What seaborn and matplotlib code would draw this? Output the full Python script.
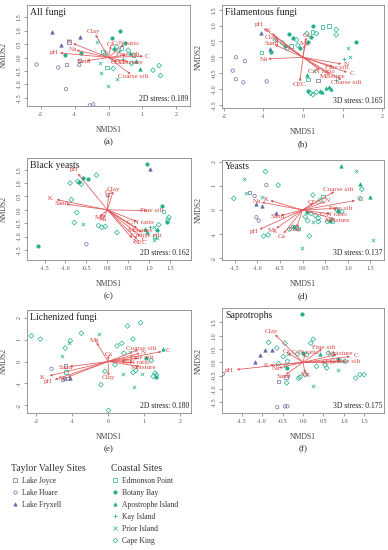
import matplotlib
matplotlib.use("Agg")
import matplotlib.pyplot as plt
from matplotlib.lines import Line2D
import pandas as pd
import seaborn as sns

# Data
# site codes: J Lake Joyce, H Lake Hoare, F Lake Fryxell,
# E Edmonson Point, B Botany Bay, A Apostrophe Island, K Kay Island, P Prior Island, C Cape King

a_x = [-1.66, -0.84, -1.40, -1.16, -2.12, -1.48, -1.24, -0.86, -0.86, -1.25, -0.55, -0.45,
       0.35, 0.09, -0.35, -0.82, -1.28, -0.24, -0.21, -0.04, 0.14, 0.26, -0.01, 0.92, 1.31, 1.49, 1.53,
       0.68, 0.24, 0.38, 0.48, 0.58, 0.63, -0.16, -0.08, 0.43, 0.73, 0.80, 0.15, 0.30]
a_y = [0.93, 0.77, 0.46, 0.57, -0.26, -0.37, -0.26, -0.10, -0.28, -1.17, -1.78, -1.74,
       0.98, 0.74, 0.56, 0.17, 0.09, -0.19, -0.57, -0.38, -0.41, -0.78, -1.06, -0.44, -0.47, -0.30, -0.67,
       -0.22, 0.40, 0.36, 0.54, 0.27, 0.15, 0.21, 0.15, -0.04, 0.09, -0.14, 0.30, 0.25]
a_site = list("FFFJHHJJHHHH") + list("BBPBBPPECPPACCCCCEBCAECKEABK")
a_vec = ["Clay", "Ca", "C/N ratio", "K", "Na", "pH", "Sand", "Fine silt", "C", "CEC", "Moisture", "Coarse silt"]
a_vx = [-0.38, 0.07, 0.45, -1.04, -0.94, -1.43, -0.65, 0.51, 1.02, 0.25, 0.58, 0.65]
a_vy = [0.85, 0.43, 0.48, 0.52, 0.27, 0.17, -0.12, 0.09, 0.05, -0.16, -0.16, -0.62]

b_x = [-1.07, -0.84, -1.47, -1.70, -1.78, -1.70, -1.51, -0.92, 0.38,
       -0.36, -0.25, -0.16, -0.52, -0.46, -0.40, -0.30, -0.13, -0.08, -1.05, -0.80, -0.70,
       0.25, 0.50, 0.66, 0.84, 0.84, 0.24, 0.34, 0.10, 0.21, 0.13, 1.34, 1.13, 1.20, 1.03, 0.84,
       0.27, 0.10, 0.13, 0.13, 0.19, 0.25, 0.34, 0.42, 0.48, 0.59, 0.66, 0.72]
b_y = [0.78, 0.25, -0.12, 0.0, -0.42, -0.69, -0.79, -0.76, -0.73,
       0.75, 0.60, 0.55, 0.45, 0.35, 0.28, 0.36, 0.38, 0.30, 0.15, 0.18, 0.55,
       0.98, 0.96, 0.99, 0.88, 0.71, 0.80, 0.75, 0.75, 0.65, 0.49, 0.49, 0.28, 0.02, -0.06, -0.71,
       -0.42, -0.55, -0.71, -1.07, -1.13, -1.18, -1.10, -1.07, -1.10, -0.97, -0.94, -1.00]
b_site = list("FFHHHHHHJ") + list("BBCCBCECBEBC") + list("BEECCECCBBBPPKK") + list("PAEBCCCAAAAA")
b_vec = ["pH", "K", "Clay", "Sand", "Na", "Ca", "Mg", "N", "Fine silt", "C", "C/N ratio", "Moisture", "Coarse silt", "CEC"]
b_vx = [-0.99, -0.78, -0.71, -0.71, -0.88, 0.08, 0.04, 0.97, 0.76, 1.11, 0.42, 0.67, 0.97, -0.08]
b_vy = [0.91, 0.75, 0.57, 0.39, -0.05, 0.62, 0.39, -0.21, -0.29, -0.47, -0.40, -0.55, -0.71, -0.76]

c_x = [1.02, 0.01, -0.50,
       0.95, -0.59, -0.26, -0.47, -0.71, -0.67, -0.62, -0.89, -0.86, -0.73, -0.79, -0.57, -0.21, -0.13,
       -0.05, 0.23, -1.66, 1.31, 1.34, 1.47, 1.45, 1.42, 1.23, 1.11, 1.18, 1.13, 1.18, 1.11, 0.95, 1.03, 0.89]
c_y = [1.53, 0.54, -1.29,
       1.73, 1.19, 1.30, 1.15, 1.06, 1.03, 0.96, 1.00, 0.38, -0.10, -0.48, -0.53, -0.59, -0.65,
       -0.63, -0.85, -1.35, 0.15, -0.06, -0.28, -0.38, -0.44, -0.56, -0.65, -0.75, -0.98, -1.06, -1.13, -0.85, -0.63, -0.73]
c_site = list("FHH") + list("BBCBCBCCCCCPCCCCBBECCBCPBEPPAKA")
c_vec = ["pH", "Ca", "Clay", "K", "Sand", "Mg", "Na", "Fine silt", "C/N ratio", "Moisture", "Coarse silt", "C", "N", "CEC"]
c_vx = [-0.70, 0.03, 0.14, -1.21, -0.97, -0.17, -0.09, 0.95, 0.71, 0.71, 0.83, 0.79, 0.59, 0.71]
c_vy = [1.35, 0.59, 0.69, 0.38, 0.21, -0.25, -0.31, -0.03, -0.44, -0.69, -0.85, -0.98, -1.06, -1.10]

d_x = [0.85, 1.18, -0.82, -1.30, -0.54, 1.27, 1.31, -1.26, -1.52, -0.90, 1.49, 1.27, 0.23, 0.45, 0.39,
       0.76, 0.79, 0.87, 0.10, 0.18, 0.28, 0.35, 0.06, 0.11, 0.23, 0.55, 0.60, 0.67, 0.35, -0.86,
       -0.76, 0.15, -0.01, 1.55, -0.29, -0.18, -0.10,
       -0.80, -1.17, -1.06, -1.02, -0.90, -0.58, -1.02, -0.97, -0.21, -0.14]
d_y = [1.82, 1.63, 1.59, 1.27, 1.03, 1.06, 0.86, 0.69, 0.48, 0.55, 0.52, 0.48, 0.62, 0.55, 0.41,
       0.0, -0.04, -0.07, -0.07, -0.14, -0.23, -0.34, -0.28, -0.44, -0.48, -0.48, -0.44, -0.48, -0.48, -1.08,
       -1.03, -1.08, -1.59, -1.24, -0.80, -0.72, -0.76,
       1.03, 0.73, 0.58, 0.25, 0.17, -0.11, -0.30, -0.44, -0.69, -0.70]
d_site = list("APCPCACPCPACCEC") + list("CBCBCCCCCPCBCCC") + list("CCPPCBE") + list("HJHFFFHHHJ")
d_vec = ["Na", "K", "Sand", "pH", "Mg", "Ca", "Clay", "Coarse silt", "CEC", "N", "C", "Fine silt", "C/N ratio", "Moisture"]
d_vx = [-0.90, -0.71, -0.49, -0.95, -0.58, -0.42, -0.13, 0.70, 0.23, 0.50, 1.16, 0.76, 0.61, 0.70]
d_vy = [0.32, 0.39, -0.23, -0.80, -0.76, -0.97, -0.72, 0.76, 0.28, 0.34, 0.39, 0.07, -0.17, -0.37]

e_x = [-2.13, -1.88, -0.74, -0.25, -1.05, -1.08, -1.19, -1.27, 0.54, 0.90, 0.25, 0.38, 0.69, 0.60,
       0.44, 1.53, 0.19, -0.09, -0.20, 0.40, 0.69, 0.77, 0.72, 0.94, 1.30, 1.34, 1.25, 1.34, 0.01,
       1.05, 1.20, -1.17,
       -1.57, -1.18, -1.25, -1.20, -1.12, -1.06]
e_y = [1.17, 1.02, 1.29, 1.26, 0.95, 0.83, 0.61, 0.23, 1.62, 1.77, 0.71, 0.83, 1.02, 0.45,
       0.38, 0.56, -0.15, -0.45, -1.06, -0.56, -0.50, -0.41, -1.17, -0.58, -0.53, -0.61, -0.68, -0.71, -2.23,
       0.15, 0.05, -0.48,
       -0.33, -0.20, -0.85, -0.80, -0.77, -0.75]
e_site = list("CCCPCPCPCCCCCPCACCCPCCPPCCCBCBCE") + list("HJHHJF")
e_vec = ["Mg", "Ca", "Clay", "Sand", "K", "pH", "Na", "Coarse silt", "N", "C", "Fine silt", "C/N ratio", "CEC", "Moisture"]
e_vx = [-0.32, 0.01, 0.01, -1.06, -1.62, -1.48, -1.11, 0.83, 0.88, 1.48, 0.83, 0.69, 0.50, 0.88]
e_vy = [0.86, 0.27, -0.65, -0.23, -0.65, -0.83, -0.71, 0.53, 0.38, 0.45, 0.15, -0.05, 0.02, -0.23]

f_x = [-0.02, -0.84, -0.44, -0.64, 0.25, 0.19, -0.14, 0.01, 0.09, -0.36, -0.48, -0.38, -0.60, -0.44,
       -0.38, -0.07, -0.11, -0.40, 0.05, 0.24, 0.42, 0.62, 0.74, 0.86, 0.54, 0.58, 0.86, 0.97, 1.03,
       1.29, 1.39, 1.49, 0.33,
       -1.96, -1.17, -1.05, -0.93, -0.77, -0.60, -0.42, -0.63, -0.44, -0.38]
f_y = [1.81, 0.75, 0.72, 0.54, 0.87, 0.72, 0.32, 0.35, 0.29, 0.32, 0.22, 0.04, -0.05, -0.15,
       -0.21, -0.55, -0.60, -0.77, -0.46, -0.87, 0.32, 0.35, 0.29, 0.12, -0.09, -0.21, -0.30, 0.04, 0.04,
       -0.59, -0.46, -0.46, -0.15,
       -0.44, 0.01, 0.29, 0.48, 0.48, -0.71, -0.55, -1.68, -1.65, -1.65]
f_site = list("BCCCCCCBCPCCCPBCCCCPACCBCCPKCCCCC") + list("HFFFFJJHHH")
f_vec = ["Clay", "Ca", "C/N ratio", "Fine silt", "Moisture", "C", "Coarse silt", "N", "pH", "K", "Na", "Sand", "Mg", "CEC"]
f_vx = [-0.68, -0.36, 0.05, 0.46, 0.82, 1.15, 0.91, 0.80, -1.62, -0.81, -0.59, -0.42, 0.05, 0.55]
f_vy = [1.04, 0.35, 0.32, 0.50, 0.29, 0.22, 0.04, 0.02, -0.27, -0.11, -0.21, -0.46, -0.40, 0.01]

titles = ["All fungi", "Filamentous fungi", "Black yeasts", "Yeasts", "Lichenized fungi", "Saprotrophs"]
stress = ["2D stress: 0.189", "3D stress: 0.165", "2D stress: 0.162", "3D stress: 0.137", "2D stress: 0.180", "3D stress: 0.175"]
letters = ["(a)", "(b)", "(c)", "(d)", "(e)", "(f)"]

tv_sites = ["Lake Joyce", "Lake Hoare", "Lake Fryxell"]
coastal_sites = ["Edmonson Point", "Botany Bay", "Apostrophe Island", "Kay Island", "Prior Island", "Cape King"]
site_codes = dict(zip(["J", "H", "F", "E", "B", "A", "K", "P", "C"], tv_sites + coastal_sites))

# Styles
purple = "#6c6ca8"
teal = "#22b08c"
red = "#e0585a"
site_style = {
    "Lake Joyce": ("s", purple, False), "Lake Hoare": ("o", purple, False), "Lake Fryxell": ("^", purple, True),
    "Edmonson Point": ("s", teal, False), "Botany Bay": ("o", teal, True), "Apostrophe Island": ("^", teal, True),
    "Kay Island": ("+", teal, True), "Prior Island": ("x", teal, True), "Cape King": ("D", teal, False),
}

panels = [
    (a_x, a_y, a_site, a_vec, a_vx, a_vy, (-2.4, 2.4), (-1.8, 1.95), [-2, -1, 0, 1, 2], [-1.5, -1, -0.5, 0, 0.5, 1, 1.5]),
    (b_x, b_y, b_site, b_vec, b_vx, b_vy, (-2.05, 2.05), (-1.6, 1.65), [-2, -1, 0, 1, 2], [-1.5, -1, -0.5, 0, 0.5, 1, 1.5]),
    (c_x, c_y, c_site, c_vec, c_vx, c_vy, (-1.92, 2.0), (-1.88, 1.94), [-1.5, -1, -0.5, 0, 0.5, 1, 1.5], [-1.5, -1, -0.5, 0, 0.5, 1, 1.5]),
    (d_x, d_y, d_site, d_vec, d_vx, d_vy, (-1.78, 1.8), (-2.07, 2.07), [-1.5, -1, -0.5, 0, 0.5, 1, 1.5], [-2, -1, 0, 1, 2]),
    (e_x, e_y, e_site, e_vec, e_vx, e_vy, (-2.25, 2.3), (-2.35, 2.35), [-2, -1, 0, 1, 2], [-2, -1, 0, 1, 2]),
    (f_x, f_y, f_site, f_vec, f_vx, f_vy, (-1.98, 1.98), (-1.9, 2.04), [-1.5, -1, -0.5, 0, 0.5, 1, 1.5], [-1.5, -1, -0.5, 0, 0.5, 1, 1.5]),
]

# axes boxes in pixels: left, top, right, bottom
boxes = [(27, 5, 190, 106), (222, 5, 384, 108), (27, 158, 191, 260),
         (222, 160, 384, 260), (27, 310, 191, 413), (222, 308, 384, 413)]

sns.set_style("white")
plt.rcParams["font.family"] = ["Liberation Serif", "DejaVu Serif"]

W, H = 388, 550
fig = plt.figure(figsize=(W / 100, H / 100), dpi=100)


def fmt(v, ticks):
    if all(float(t).is_integer() for t in ticks):
        return "%d" % v
    return "%.1f" % v


for i, (xs, ys, ss, vn, vx, vy, xl, yl, xt, yt) in enumerate(panels):
    l, t, r, b = boxes[i]
    ax = fig.add_axes([l / W, 1 - b / H, (r - l) / W, (b - t) / H])
    df = pd.DataFrame({"NMDS1": xs, "NMDS2": ys, "site": [site_codes[s] for s in ss]})
    for site in tv_sites + coastal_sites:
        sub = df[df.site == site]
        if sub.empty:
            continue
        m, col, filled = site_style[site]
        kw = dict(facecolors=col if filled else "none")
        if m not in ("+", "x"):
            kw["edgecolor"] = col
        sns.scatterplot(data=sub, x="NMDS1", y="NMDS2", ax=ax, marker=m, s=6,
                        color=col, linewidth=0.5, legend=False, zorder=2, **kw)
    for name, ex, ey in zip(vn, vx, vy):
        ax.annotate("", xy=(ex, ey), xytext=(0, 0),
                    arrowprops=dict(arrowstyle="-|>", color=red, lw=0.55, shrinkA=0, shrinkB=0,
                                    mutation_scale=3), zorder=3)
        ax.text(ex * 1.12, ey * 1.12, name, color="#d64545", fontsize=5.1,
                ha="center", va="center", zorder=4)
    ax.set_xlim(*xl)
    ax.set_ylim(*yl)
    ax.set_xticks(xt)
    ax.set_yticks(yt)
    ax.set_xticklabels([fmt(v, xt) for v in xt])
    ax.set_yticklabels([fmt(v, yt) for v in yt], rotation=90, va="center")
    ax.tick_params(axis="both", length=2, width=0.5, pad=2, labelsize=4.3,
                   labelcolor="#555555", color="#777777", direction="out", bottom=True, left=True)
    for sp in ax.spines.values():
        sp.set_color("#888888")
        sp.set_linewidth(0.6)
    ax.set_xlabel("NMDS1", fontsize=5.5, color="#444444", labelpad=7)
    ax.set_ylabel("NMDS2", fontsize=5.5, color="#444444", labelpad=6)
    ax.text(0.02, 0.975, titles[i], transform=ax.transAxes, fontsize=7, va="top", ha="left", color="#222222")
    ax.text(0.99, 0.025, stress[i], transform=ax.transAxes, fontsize=5.5, va="bottom", ha="right", color="#222222")
    fig.text((l + r) / 2 / W, 1 - (b + 36) / H, letters[i], fontsize=6.5, ha="center", va="center", color="#222222")


def handles(names):
    hs = []
    for n in names:
        m, col, filled = site_style[n]
        hs.append(Line2D([], [], linestyle="none", marker=m, markersize=2.4, markeredgewidth=0.5,
                         color=col, markerfacecolor=col if filled else "none", label=n))
    return hs


for names, title, x0 in [(tv_sites, "Taylor Valley Sites", 8), (coastal_sites, "Coastal Sites", 108)]:
    leg = fig.legend(handles=handles(names), title=title, loc="upper left",
                     bbox_to_anchor=(x0 / W, 1 - 461 / H), frameon=False, fontsize=5.5,
                     title_fontsize=7, alignment="left", labelspacing=0.52,
                     handletextpad=0.4, handlelength=1.0, borderaxespad=0)
    for txt in leg.get_texts():
        txt.set_color("#333333")
    leg.get_title().set_color("#333333")

fig.savefig("out.png", dpi=100)
